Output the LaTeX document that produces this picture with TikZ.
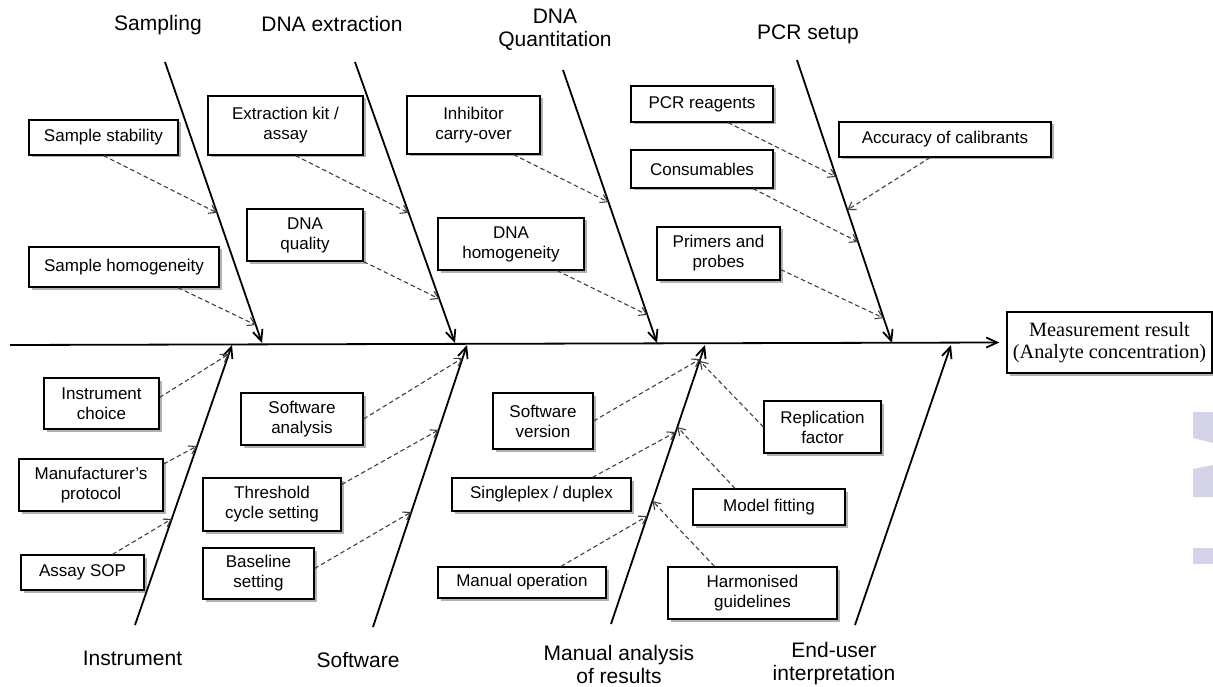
\documentclass[tikz,border=0pt]{standalone}
\usepackage{fontspec}
\setmainfont{Liberation Sans}
\newfontfamily\resfont{Liberation Serif}
\usetikzlibrary{arrows.meta,shadows}
\definecolor{wmark}{HTML}{D4D3E8}

\begin{document}
\begin{tikzpicture}[x=1pt,y=-1pt,
  cause/.style={draw,line width=1.2pt,fill=white,align=center,inner sep=0pt,
    font=\fontsize{17}{20}\selectfont,
    drop shadow={shadow xshift=2.5pt,shadow yshift=-2.5pt,opacity=.3,fill=black}},
  sz/.style 2 args={minimum width=#1pt,minimum height=#2pt},
  catlabel/.style={align=center,inner sep=0pt,font=\fontsize{21}{23}\selectfont},
  bone/.style={line width=1.8pt,-{Straight Barb[length=11pt,width=10pt]}},
  sub/.style={black!75,line width=1.1pt,dash pattern=on 4.5pt off 3pt,
    -{Straight Barb[length=7pt,width=9pt]}}]
\path[use as bounding box,fill=white] (0,0) rectangle (1213,687);

% faded logo at the right edge
\fill[wmark] (1193,412) -- (1213,412) -- (1213,443) -- (1193,438) -- cycle;
\fill[wmark] (1193,469) -- (1213,465) -- (1213,497) -- (1193,497) -- cycle;
\fill[wmark] (1193,548) rectangle (1213,564);

% result and spine
\node[cause,font=\resfont\fontsize{20.3}{22.5}\selectfont,sz={205}{61}] (res) at (1109.5,342.5) {Measurement result\\(Analyte concentration)};
\coordinate (sp0) at (10,345);
\draw[bone] (sp0) -- ([xshift=-7pt]res.west);

% category labels
\node[catlabel] (lsam) at (158,25) {Sampling};
\node[catlabel] (lext) at (332,24) {DNA extraction};
\node[catlabel] (lqua) at (555,30) {DNA\\Quantitation};
\node[catlabel] (lpcr) at (808,34) {PCR setup};
\node[catlabel] (lins) at (132.5,658) {Instrument};
\node[catlabel] (lsof) at (358,660) {Software};
\node[catlabel] (lman) at (619,664) {Manual analysis\\of results};
\node[catlabel] (lend) at (834,664) {End-user\\interpretation};

% bones
\coordinate (samT) at (165,62);  \coordinate (samB) at (262,343);
\coordinate (extT) at (355,62);  \coordinate (extB) at (455,343);
\coordinate (quaT) at (563,70);  \coordinate (quaB) at (657,343);
\coordinate (pcrT) at (797,60);  \coordinate (pcrB) at (892,343);
\coordinate (insB) at (135,625); \coordinate (insT) at (232,345);
\coordinate (sofB) at (373,627); \coordinate (sofT) at (467,345);
\coordinate (manB) at (611,624); \coordinate (manT) at (705,345);
\coordinate (endB) at (855,625); \coordinate (endT) at (951,345);

\draw[bone] (samT) -- coordinate[pos=.537] (ssT) coordinate[pos=.936] (shT) (samB);
\draw[bone] (extT) -- coordinate[pos=.537] (ekT) coordinate[pos=.843] (dqT) (extB);
\draw[bone] (quaT) -- coordinate[pos=.484] (icT) coordinate[pos=.897] (dhT) (quaB);
\draw[bone] (pcrT) -- coordinate[pos=.413] (prT) coordinate[pos=.643] (coT)
  coordinate[pos=.912] (ppT) coordinate[pos=.53] (acT) (pcrB);
\draw[bone] (insB) -- coordinate[pos=.968] (ichT) coordinate[pos=.639] (mpT)
  coordinate[pos=.379] (asT) (insT);
\draw[bone] (sofB) -- coordinate[pos=.954] (saT) coordinate[pos=.699] (tcT)
  coordinate[pos=.408] (bsT) (sofT);
\draw[bone] (manB) -- coordinate[pos=.95] (svT) coordinate[pos=.688] (sdT)
  coordinate[pos=.387] (moT) coordinate[pos=.943] (rfT) coordinate[pos=.706] (mfT)
  coordinate[pos=.441] (hgT) (manT);
\draw[bone] (endB) -- (endT);

% causes above the spine
\node[cause,sz={149}{35}] (ss) at (103.5,137.5) {Sample stability};
\node[cause,sz={190}{40}] (sh) at (124,267) {Sample homogeneity};
\node[cause,sz={155}{59}] (ek) at (285.5,125.5) {Extraction kit /\\assay};
\node[cause,sz={116}{52}] (dq) at (305,235) {DNA\\quality};
\node[cause,sz={133}{58}] (ic) at (473.5,125) {Inhibitor\\carry-over};
\node[cause,sz={146}{52}] (dh) at (511,244) {DNA\\homogeneity};
\node[cause,sz={142}{36}] (pr) at (702,104) {PCR reagents};
\node[cause,sz={142}{38}] (co) at (702,169) {Consumables};
\node[cause,sz={123}{53}] (pp) at (718.5,253.5) {Primers and\\probes};
\node[cause,sz={212}{35}] (ac) at (945,139.5) {Accuracy of calibrants};

% causes below the spine
\node[cause,sz={115}{51}] (ich) at (101.5,403.5) {Instrument\\choice};
\node[cause,sz={144}{52}] (mp) at (91,485) {Manufacturer's\\protocol};
\node[cause,sz={123}{35}] (as) at (82.5,572.5) {Assay SOP};
\node[cause,sz={122}{52}] (sa) at (302,419) {Software\\analysis};
\node[cause,sz={138}{53}] (tc) at (272,504.5) {Threshold\\cycle setting};
\node[cause,sz={111}{51}] (bs) at (258.5,573.5) {Baseline\\setting};
\node[cause,sz={100}{56}] (sv) at (543,421) {Software\\version};
\node[cause,sz={179}{33}] (sd) at (541.5,494.5) {Singleplex / duplex};
\node[cause,sz={168}{31}] (mo) at (522,582.5) {Manual operation};
\node[cause,sz={117}{52}] (rf) at (822.5,427) {Replication\\factor};
\node[cause,sz={152}{36}] (mf) at (769,507) {Model fitting};
\node[cause,sz={169}{52}] (hg) at (752.5,593) {Harmonised\\guidelines};

% dashed links
\draw[sub] (ss.south) -- (ssT);
\draw[sub] ([xshift=54pt]sh.south) -- (shT);
\draw[sub] ([xshift=10pt]ek.south) -- (ekT);
\draw[sub] (dq.south east) -- (dqT);
\draw[sub] ([xshift=40pt]ic.south) -- (icT);
\draw[sub] ([xshift=46pt]dh.south) -- (dhT);
\draw[sub] ([xshift=26pt]pr.south) -- (prT);
\draw[sub] ([xshift=51pt]co.south) -- (coT);
\draw[sub] ([yshift=-16pt]pp.east) -- (ppT);
\draw[sub] ([xshift=-15pt]ac.south) -- (acT);
\draw[sub] ([yshift=6pt]ich.east) -- (ichT);
\draw[sub] ([yshift=21pt]mp.east) -- (mpT);
\draw[sub] ([xshift=30pt]as.north) -- (asT);
\draw[sub] (sa.east) -- (saT);
\draw[sub] ([yshift=20pt]tc.east) -- (tcT);
\draw[sub] ([yshift=5pt]bs.east) -- (bsT);
\draw[sub] (sv.east) -- (svT);
\draw[sub] ([xshift=51pt]sd.north) -- (sdT);
\draw[sub] ([xshift=39pt]mo.north) -- (moT);
\draw[sub] (rf.west) -- (rfT);
\draw[sub] ([xshift=-34pt]mf.north) -- (mfT);
\draw[sub] ([xshift=-38pt]hg.north) -- (hgT);
\end{tikzpicture}
\end{document}
